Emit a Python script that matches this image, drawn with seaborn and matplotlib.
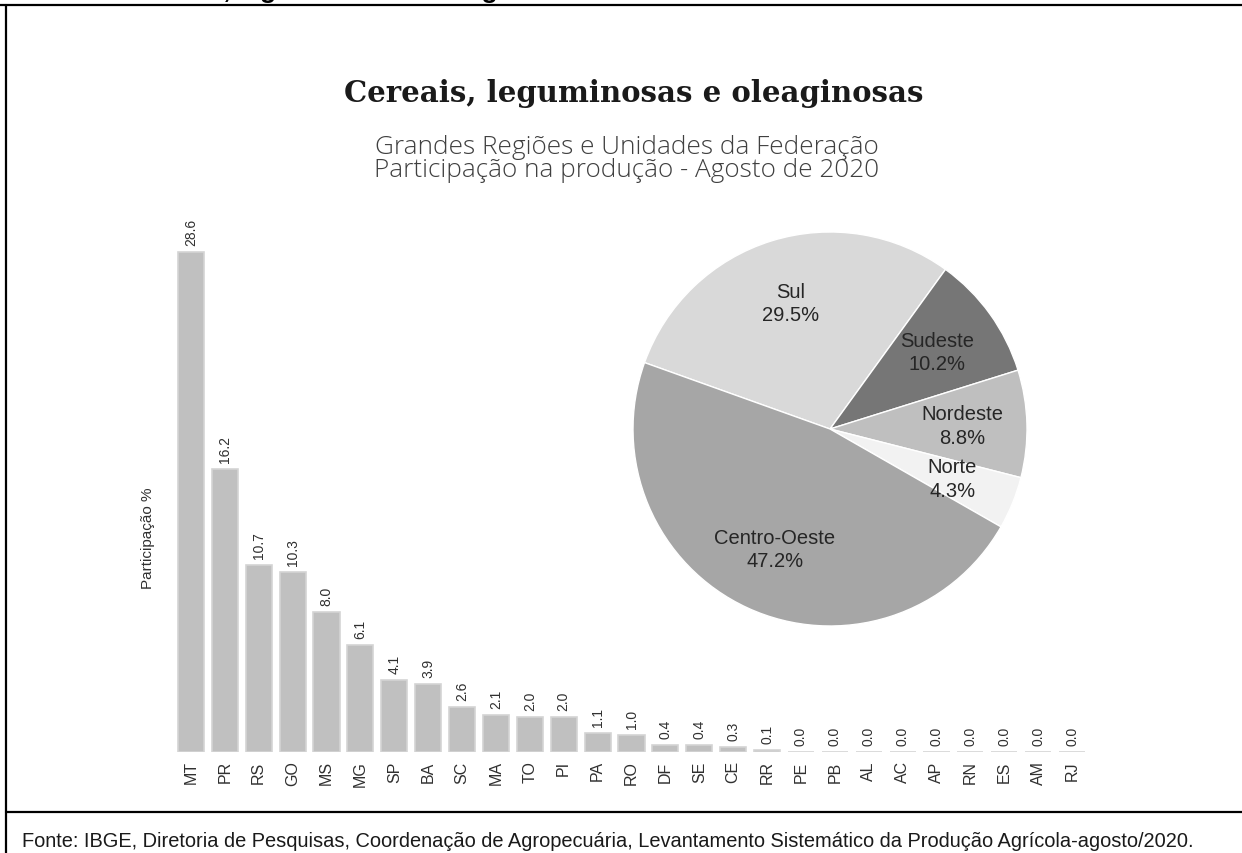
import matplotlib
matplotlib.use('Agg')
import matplotlib.pyplot as plt
from matplotlib.lines import Line2D
import seaborn as sns

# Participação por UF (%)
ufs = ['MT', 'PR', 'RS', 'GO', 'MS', 'MG', 'SP', 'BA', 'SC', 'MA', 'TO', 'PI', 'PA', 'RO',
       'DF', 'SE', 'CE', 'RR', 'PE', 'PB', 'AL', 'AC', 'AP', 'RN', 'ES', 'AM', 'RJ']
participacao = [28.6, 16.2, 10.7, 10.3, 8.0, 6.1, 4.1, 3.9, 2.6, 2.1, 2.0, 2.0, 1.1, 1.0,
                0.4, 0.4, 0.3, 0.1, 0.0, 0.0, 0.0, 0.0, 0.0, 0.0, 0.0, 0.0, 0.0]

# Participação por Grande Região (%)
regioes = ['Sul', 'Sudeste', 'Nordeste', 'Norte', 'Centro-Oeste']
part_regioes = [29.5, 10.2, 8.8, 4.3, 47.2]
cores_regioes = ['#d9d9d9', '#767676', '#bfbfbf', '#f2f2f2', '#a6a6a6']

titulo = 'Cereais, leguminosas e oleaginosas'
subtitulo = 'Grandes Regiões e Unidades da Federação\nParticipação na produção - Agosto de 2020'
fonte = ('Fonte: IBGE, Diretoria de Pesquisas, Coordenação de Agropecuária, '
         'Levantamento Sistemático da Produção Agrícola-agosto/2020.')

sns.set_style('white')
plt.rcParams['font.family'] = ['Liberation Sans', 'DejaVu Sans']

W, H = 1242, 854
fig = plt.figure(figsize=(W / 100, H / 100), dpi=100)

# --- barras por UF ---
ax = fig.add_axes([174 / W, 101 / H, 915 / W, 525 / H])
sns.barplot(x=ufs, y=participacao, color='#c0c0c0', saturation=1, width=0.77,
            edgecolor='#d4d4d4', linewidth=1.2, ax=ax)
ax.bar_label(ax.containers[0], fmt='%.1f', rotation=90, padding=5, fontsize=10, color='#303030')
ax.set_xlim(-0.5, len(ufs) - 0.5)
ax.set_ylim(0, 30)
ax.set_yticks([])
ax.set_ylabel('')
ax.tick_params(axis='x', rotation=90, labelsize=11.5, length=0, pad=6, colors='#303030')
sns.despine(ax=ax, left=True, bottom=True)
fig.text(148 / W, 1 - 538 / H, 'Participação %', rotation=90, ha='center', va='center',
         fontsize=11, color='#303030')

# --- pizza por região ---
axp = fig.add_axes([633 / W, (H - 627) / H, 394 / W, 394 / H])
axp.pie(part_regioes, labels=[f'{r}\n{v:.1f}%' for r, v in zip(regioes, part_regioes)],
        colors=cores_regioes, startangle=160.3, counterclock=False, labeldistance=0.67,
        wedgeprops={'edgecolor': 'white', 'linewidth': 1},
        textprops={'fontsize': 14.5, 'color': '#262626', 'ha': 'center', 'va': 'center',
                   'linespacing': 1.3})
axp.set_xlim(-1, 1)
axp.set_ylim(-1, 1)
axp.set_aspect('equal')

# --- títulos ---
fig.text(634 / W, 1 - 93 / H, titulo, ha='center', va='center', fontsize=21,
         family=['DejaVu Serif'], fontweight='bold', color='#1a1a1a')
fig.text(627 / W, 1 - 159 / H, subtitulo, ha='center', va='center', fontsize=18.8,
         family=['Open Sans', 'DejaVu Sans'], fontweight='light', color='#404040',
         linespacing=0.92)

# texto cortado no topo e moldura
fig.text(128 / W, 1 + 2 / H, titulo, ha='left', va='baseline', fontsize=19,
         fontweight='bold', color='black')
fig.add_artist(Line2D([0, 1], [1 - 6 / H, 1 - 6 / H], color='black', lw=1.6))
fig.add_artist(Line2D([6 / W, 6 / W], [0, 1 - 6 / H], color='black', lw=1.6))
fig.add_artist(Line2D([6 / W, 1], [1 - 813 / H, 1 - 813 / H], color='black', lw=1.6))
fig.text(22 / W, 1 - 842 / H, fonte, ha='left', va='center', fontsize=14.4, color='#1a1a1a')

fig.savefig('out.png', dpi=100)
